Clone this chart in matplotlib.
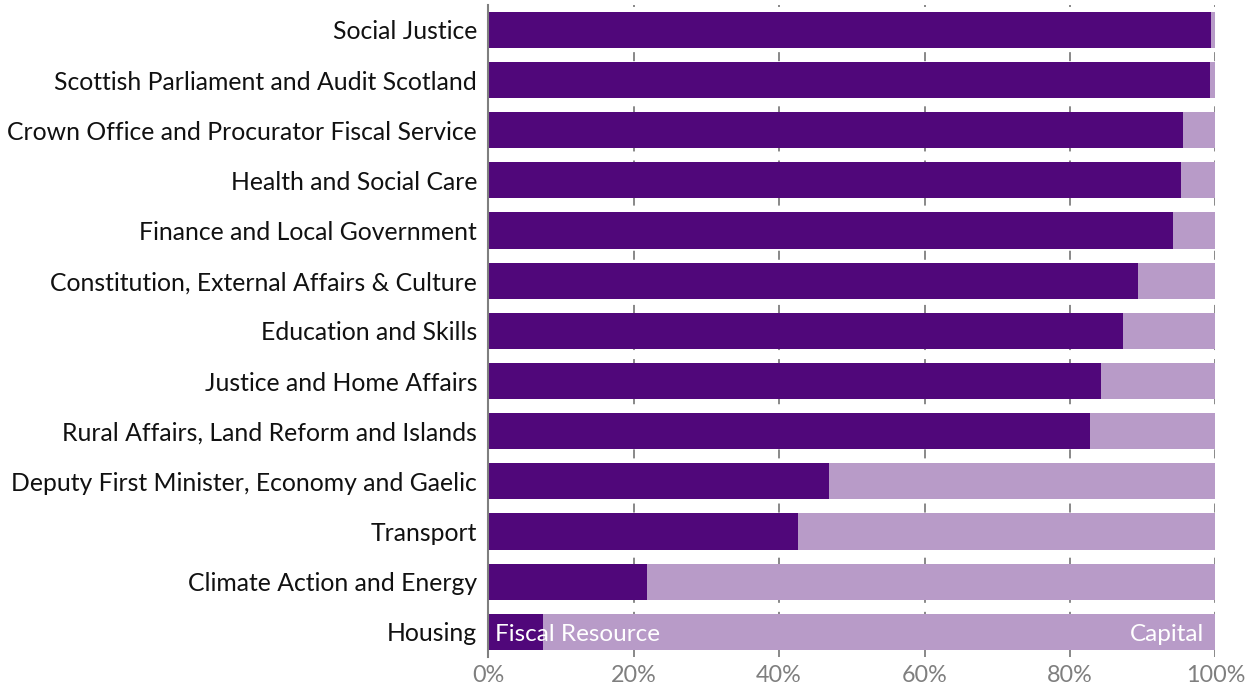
import matplotlib.pyplot as plt
import numpy as np

plt.rcParams['font.family'] = ['Lato', 'DejaVu Sans']

portfolios = [
    'Social Justice',
    'Scottish Parliament and Audit Scotland',
    'Crown Office and Procurator Fiscal Service',
    'Health and Social Care',
    'Finance and Local Government',
    'Constitution, External Affairs & Culture',
    'Education and Skills',
    'Justice and Home Affairs',
    'Rural Affairs, Land Reform and Islands',
    'Deputy First Minister, Economy and Gaelic',
    'Transport',
    'Climate Action and Energy',
    'Housing',
]
# share of each portfolio budget that is fiscal resource (%), remainder is capital
fiscal_resource = np.array([99.4, 99.3, 95.6, 95.3, 94.1, 89.3, 87.3,
                            84.2, 82.8, 46.8, 42.6, 21.9, 7.6])
capital = 100 - fiscal_resource
ticks = [0, 20, 40, 60, 80, 100]

dark = '#50077a'
light = '#b89bc8'
grey = '#7f7f7f'

fig = plt.figure(figsize=(12.55, 6.9), dpi=100)
ax = fig.add_axes([0.389, 0.048, 0.5795, 0.945])

y = np.arange(len(portfolios))
ax.barh(y, fiscal_resource, height=0.72, color=dark, zorder=2)
ax.barh(y, capital, left=fiscal_resource, height=0.72, color=light, zorder=2)

ax.set_ylim(len(portfolios) - 0.5, -0.5)
ax.set_xlim(0, 100)
ax.set_yticks(y)
ax.set_yticklabels(portfolios, fontsize=17.8, color='#111111')
ax.set_xticks(ticks)
ax.set_xticklabels([f'{t}%' for t in ticks], fontsize=16.8, color=grey)
ax.tick_params(axis='y', length=0, pad=8)
ax.tick_params(axis='x', length=0, pad=6)

ax.grid(axis='x', color=grey, linestyle=(0, (5, 5)), linewidth=1.3, zorder=1)
for side in ['top', 'right', 'bottom']:
    ax.spines[side].set_visible(False)
ax.spines['left'].set_color(grey)
ax.spines['left'].set_linewidth(1.5)

ax.text(1, y[-1] + 0.05, 'Fiscal Resource', color='white', fontsize=17.5,
        va='center', ha='left', zorder=3)
ax.text(98.4, y[-1] + 0.05, 'Capital', color='white', fontsize=17.5,
        va='center', ha='right', zorder=3)

fig.savefig('out.png', dpi=100)
